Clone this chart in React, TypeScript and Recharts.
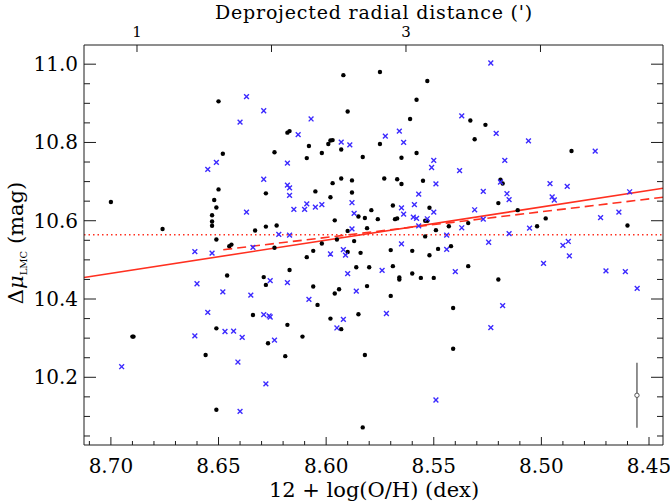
import React from "react";
import { ComposedChart, Scatter, XAxis, YAxis, ReferenceLine, ErrorBar, Label } from "recharts";

const FONT = "'DejaVu Serif', serif";
const INK = "#1c1c1c";
const BLUE = "#3c2aff";
const RED = "#ff3020";

// [12 + log(O/H), delta mu]
const blackDots: [number, number][] = [
  [8.7, 10.648], [8.676, 10.579], [8.65, 10.905], [8.648, 10.771], [8.65, 10.68], [8.652, 10.653],
  [8.651, 10.634], [8.653, 10.614], [8.653, 10.598], [8.653, 10.587], [8.651, 10.552], [8.633, 10.575],
  [8.628, 10.585], [8.628, 10.67], [8.624, 10.775], [8.623, 10.588], [8.618, 10.825], [8.617, 10.829],
  [8.608, 10.791], [8.609, 10.76], [8.602, 10.773], [8.605, 10.675], [8.599, 10.796], [8.598, 10.805],
  [8.597, 10.806], [8.593, 10.782], [8.592, 10.972], [8.59, 10.879], [8.593, 10.708], [8.597, 10.696],
  [8.598, 10.66], [8.596, 10.601], [8.588, 10.703], [8.588, 10.672], [8.583, 10.763], [8.585, 10.611],
  [8.582, 10.607], [8.579, 10.627], [8.581, 10.581], [8.59, 10.574], [8.587, 10.548], [8.595, 10.552],
  [8.602, 10.542],
  [8.575, 10.98], [8.553, 10.957], [8.558, 10.909], [8.561, 10.86], [8.575, 10.796], [8.565, 10.761],
  [8.558, 10.773], [8.533, 10.856], [8.526, 10.845], [8.531, 10.808], [8.573, 10.708], [8.567, 10.706],
  [8.565, 10.694], [8.555, 10.702], [8.569, 10.639], [8.576, 10.604], [8.568, 10.604], [8.567, 10.606],
  [8.552, 10.633], [8.554, 10.6], [8.553, 10.6], [8.549, 10.576], [8.554, 10.56], [8.543, 10.586],
  [8.534, 10.594], [8.519, 10.705], [8.518, 10.695], [8.52, 10.645], [8.511, 10.627], [8.502, 10.586],
  [8.498, 10.606], [8.486, 10.778], [8.46, 10.588],
  [8.645, 10.535], [8.644, 10.539], [8.624, 10.531], [8.606, 10.523], [8.609, 10.507], [8.59, 10.52],
  [8.584, 10.518], [8.617, 10.474], [8.629, 10.456], [8.628, 10.436], [8.646, 10.46], [8.606, 10.432],
  [8.604, 10.385], [8.596, 10.414], [8.594, 10.425], [8.586, 10.481], [8.58, 10.481], [8.581, 10.433],
  [8.585, 10.361], [8.598, 10.35], [8.593, 10.323], [8.618, 10.334], [8.634, 10.359], [8.651, 10.325],
  [8.69, 10.304], [8.6895, 10.304], [8.656, 10.257], [8.627, 10.287], [8.619, 10.254], [8.611, 10.304],
  [8.582, 10.257], [8.651, 10.117], [8.583, 10.072],
  [8.57, 10.525], [8.569, 10.484], [8.566, 10.45], [8.566, 10.455], [8.57, 10.408], [8.56, 10.523],
  [8.56, 10.465], [8.556, 10.454], [8.552, 10.512], [8.55, 10.454], [8.548, 10.528], [8.542, 10.535],
  [8.534, 10.484], [8.52, 10.45], [8.541, 10.377], [8.541, 10.273],
];

const blueCrosses: [number, number][] = [
  [8.637, 10.917], [8.629, 10.881], [8.64, 10.852], [8.607, 10.86], [8.613, 10.82], [8.593, 10.801],
  [8.589, 10.794], [8.651, 10.749], [8.655, 10.731], [8.618, 10.747], [8.629, 10.706], [8.618, 10.691],
  [8.617, 10.684], [8.617, 10.665], [8.637, 10.622], [8.615, 10.629], [8.61, 10.629], [8.609, 10.643],
  [8.605, 10.635], [8.602, 10.641], [8.588, 10.646], [8.587, 10.619], [8.588, 10.579], [8.622, 10.565],
  [8.617, 10.563],
  [8.5235, 11.003], [8.537, 10.868], [8.5725, 10.816], [8.566, 10.829], [8.564, 10.8], [8.521, 10.823],
  [8.506, 10.804], [8.475, 10.778], [8.55, 10.754], [8.551, 10.736], [8.538, 10.728], [8.517, 10.754],
  [8.549, 10.694], [8.557, 10.668], [8.527, 10.675], [8.519, 10.699], [8.516, 10.669], [8.515, 10.654],
  [8.496, 10.695], [8.495, 10.661], [8.494, 10.653], [8.488, 10.688], [8.459, 10.674], [8.565, 10.633],
  [8.564, 10.617], [8.559, 10.641], [8.5595, 10.609], [8.558, 10.606], [8.55, 10.622], [8.553, 10.605],
  [8.557, 10.587], [8.531, 10.628], [8.527, 10.604], [8.537, 10.582], [8.544, 10.563], [8.515, 10.567],
  [8.5055, 10.581], [8.4725, 10.608], [8.464, 10.622], [8.565, 10.541], [8.5245, 10.545], [8.4875, 10.547],
  [8.661, 10.521], [8.653, 10.517], [8.634, 10.532], [8.598, 10.515], [8.592, 10.526], [8.591, 10.512],
  [8.59, 10.465], [8.66, 10.439], [8.648, 10.418], [8.635, 10.41], [8.626, 10.447], [8.618, 10.442],
  [8.608, 10.399], [8.586, 10.42], [8.655, 10.366], [8.629, 10.36], [8.6265, 10.357], [8.626, 10.354],
  [8.592, 10.348], [8.595, 10.326], [8.661, 10.306], [8.647, 10.317], [8.643, 10.318], [8.639, 10.302],
  [8.624, 10.295], [8.641, 10.239], [8.628, 10.183], [8.695, 10.227], [8.64, 10.113],
  [8.574, 10.473], [8.572, 10.363], [8.544, 10.527], [8.54, 10.47], [8.5235, 10.327], [8.518, 10.383],
  [8.499, 10.491], [8.49, 10.537], [8.487, 10.51], [8.47, 10.472], [8.461, 10.47], [8.4555, 10.427],
  [8.549, 10.142],
];

// fitted relations
const fitAll = [{ x: 8.7125, y: 10.455 }, { x: 8.4435, y: 10.683 }];
const fitDashed = [{ x: 8.6478, y: 10.526 }, { x: 8.4435, y: 10.66 }];
const meanMu = 10.564;
const typicalError = [{ x: 8.4556, y: 10.154, err: 0.083 }];

const xMajor = [8.45, 8.5, 8.55, 8.6, 8.65, 8.7];
const yMajor = [10.2, 10.4, 10.6, 10.8, 11.0];
const radialTicks = [1, 2, 3, 4];
const radialLabels = ["1", "", "3", ""];

const xTicks: number[] = [];
for (let i = 845; i <= 871; i++) xTicks.push(i / 100);
const yTicks: number[] = [];
for (let i = 201; i <= 220; i++) yTicks.push(i / 20);

// keeps the top / right axes bound to a series so their ticks get drawn
const frameAnchor = [{ x: 1, y: 10.6 }];

const isMajor = (v: number, list: number[]) => list.some((m) => Math.abs(m - v) < 1e-6);

const toPts = (arr: [number, number][]) => arr.map(([x, y]) => ({ x, y }));

function BottomTick(props: any) {
  const { x, y, payload } = props;
  const major = isMajor(payload.value, xMajor);
  return (
    <g>
      <line x1={x} x2={x} y1={y} y2={y - (major ? 8 : 4)} stroke={INK} />
      {major && (
        <text x={x} y={y + 28} textAnchor="middle" fontFamily={FONT} fontSize={20} fill="#000">
          {payload.value.toFixed(2)}
        </text>
      )}
    </g>
  );
}

function LeftTick(props: any) {
  const { x, y, payload } = props;
  const major = isMajor(payload.value, yMajor);
  return (
    <g>
      <line x1={x} x2={x + (major ? 12 : 6)} y1={y} y2={y} stroke={INK} />
      {major && (
        <text x={x - 6} y={y + 7} textAnchor="end" fontFamily={FONT} fontSize={20} fill="#000">
          {payload.value.toFixed(1)}
        </text>
      )}
    </g>
  );
}

function RightTick(props: any) {
  const { x, y, payload } = props;
  const major = isMajor(payload.value, yMajor);
  return <line x1={x} x2={x - (major ? 12 : 6)} y1={y} y2={y} stroke={INK} />;
}

function TopTick(props: any) {
  const { x, y, payload } = props;
  const i = radialTicks.findIndex((t) => Math.abs(t - payload.value) < 1e-6);
  return (
    <g>
      <line x1={x} x2={x} y1={y} y2={y + 7} stroke={INK} />
      <text x={x} y={y - 8} textAnchor="middle" fontFamily={FONT} fontSize={15} fill="#000">
        {i >= 0 ? radialLabels[i] : ""}
      </text>
    </g>
  );
}

const BlackDot = (p: any) => <circle cx={p.cx} cy={p.cy} r={2.2} fill="#000" />;
const BlueCross = (p: any) => {
  const { cx, cy } = p;
  const s = 2.4;
  return (
    <path
      d={`M${cx - s},${cy - s}L${cx + s},${cy + s}M${cx - s},${cy + s}L${cx + s},${cy - s}`}
      stroke={BLUE}
      strokeWidth={1.4}
      fill="none"
    />
  );
};
const OpenDot = (p: any) => <circle cx={p.cx} cy={p.cy} r={2.2} fill="#fff" stroke="#555" strokeWidth={1} />;
const NoMark = () => <g />;

const XTitle = () => (
  <text x={374} y={497} textAnchor="middle" fontFamily={FONT} fontSize={21} fill="#000">
    12 + log(O/H) (dex)
  </text>
);
const TopTitle = () => (
  <text x={374} y={18.5} textAnchor="middle" fontFamily={FONT} fontSize={19} letterSpacing={0.8} fill="#000">
    Deprojected radial distance (')
  </text>
);
const YTitle = () => (
  <text transform="translate(23,243) rotate(-90)" textAnchor="middle" fontFamily={FONT} fontSize={21} fill="#000">
    <tspan>Δ</tspan>
    <tspan fontStyle="italic">μ</tspan>
    <tspan fontSize={10} dy={4}>LMC</tspan>
    <tspan dy={-4}> (mag)</tspan>
  </text>
);

export default function App() {
  return (
    <div style={{ position: "absolute", left: 0, top: 0, background: "#fff" }}>
      <ComposedChart width={670} height={502} margin={{ top: 0, right: 0, bottom: 0, left: 0 }}>
        <XAxis
          xAxisId="oh"
          dataKey="x"
          type="number"
          domain={[8.4435, 8.7125]}
          reversed
          allowDataOverflow
          ticks={xTicks}
          interval={0}
          tickSize={0}
          tickMargin={0}
          tickLine={false}
          tick={<BottomTick />}
          axisLine={{ stroke: INK }}
          height={57}
          orientation="bottom"
        >
          <Label content={<XTitle />} />
        </XAxis>
        <XAxis
          xAxisId="r"
          dataKey="x"
          type="number"
          domain={[0.606, 4.911]}
          allowDataOverflow
          ticks={radialTicks}
          interval={0}
          tickSize={0}
          tickMargin={0}
          tickLine={false}
          tick={<TopTick />}
          axisLine={{ stroke: INK }}
          height={45}
          orientation="top"
        >
          <Label content={<TopTitle />} />
        </XAxis>
        <YAxis
          yAxisId="mu"
          dataKey="y"
          type="number"
          domain={[10.027, 11.049]}
          allowDataOverflow
          ticks={yTicks}
          interval={0}
          tickSize={0}
          tickMargin={0}
          tickLine={false}
          tick={<LeftTick />}
          axisLine={{ stroke: INK }}
          width={84}
        >
          <Label content={<YTitle />} />
        </YAxis>
        <YAxis
          yAxisId="mu2"
          dataKey="y"
          type="number"
          orientation="right"
          domain={[10.027, 11.049]}
          allowDataOverflow
          ticks={yTicks}
          interval={0}
          tickSize={0}
          tickMargin={0}
          tickLine={false}
          tick={<RightTick />}
          axisLine={{ stroke: INK }}
          width={7}
        />
        <Scatter
          xAxisId="r"
          yAxisId="mu2"
          data={frameAnchor}
          shape={<NoMark />}
          isAnimationActive={false}
        />
        <Scatter
          xAxisId="oh"
          yAxisId="mu"
          data={toPts(blackDots)}
          shape={<BlackDot />}
          isAnimationActive={false}
        />
        <Scatter
          xAxisId="oh"
          yAxisId="mu"
          data={toPts(blueCrosses)}
          shape={<BlueCross />}
          isAnimationActive={false}
        />
        <Scatter
          xAxisId="oh"
          yAxisId="mu"
          data={typicalError}
          shape={<OpenDot />}
          isAnimationActive={false}
        >
          <ErrorBar dataKey="err" direction="y" width={0} stroke="#555" strokeWidth={1.3} isAnimationActive={false} />
        </Scatter>
        <ReferenceLine
          xAxisId="oh"
          yAxisId="mu"
          y={meanMu}
          stroke={RED}
          strokeWidth={1.5}
          strokeDasharray="1.5 3"
          ifOverflow="visible"
        />
        <ReferenceLine
          xAxisId="oh"
          yAxisId="mu"
          segment={fitDashed}
          stroke={RED}
          strokeWidth={1.6}
          strokeDasharray="9 5"
          ifOverflow="visible"
        />
        <ReferenceLine
          xAxisId="oh"
          yAxisId="mu"
          segment={fitAll}
          stroke={RED}
          strokeWidth={1.6}
          ifOverflow="visible"
        />
      </ComposedChart>
    </div>
  );
}
